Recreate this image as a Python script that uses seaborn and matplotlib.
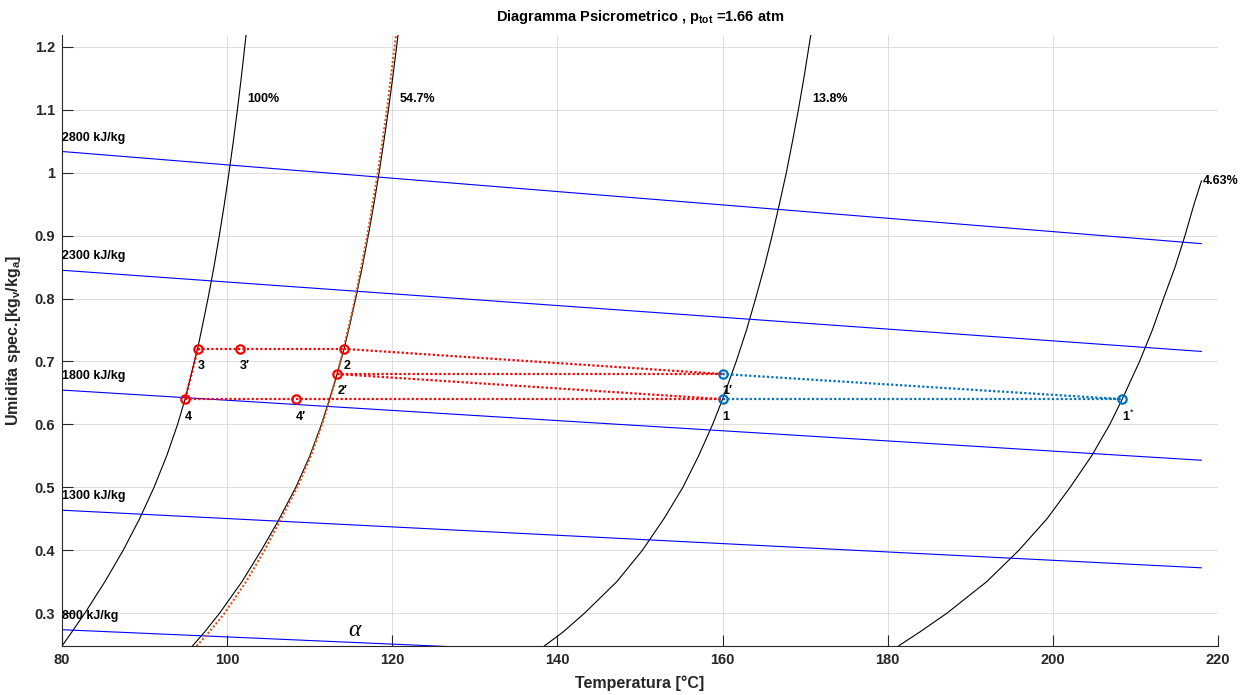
import matplotlib
matplotlib.use("Agg")
import matplotlib.pyplot as plt
import seaborn as sns
from matplotlib.ticker import FixedLocator, FuncFormatter

# ---------------- data ----------------
# relative-humidity curves: specific humidity [kg_v/kg_a] and temperature [°C]
rh100_X = [0.2476, 0.27, 0.30, 0.35, 0.40, 0.45, 0.50, 0.55, 0.60, 0.64, 0.70, 0.72, 0.75,
           0.80, 0.85, 0.90, 0.95, 1.00, 1.05, 1.10, 1.15, 1.219]
rh100_T = [80.0, 81.2, 82.78, 85.2, 87.42, 89.4, 91.15, 92.68, 94.0, 94.9, 96.05, 96.42, 96.9,
           97.68, 98.4, 99.05, 99.66, 100.22, 100.75, 101.24, 101.7, 102.29]

rh547_X = [0.2476, 0.27, 0.30, 0.35, 0.40, 0.445, 0.50, 0.55, 0.60, 0.64, 0.68, 0.72, 0.76,
           0.80, 0.85, 0.90, 0.95, 1.00, 1.05, 1.10, 1.15, 1.219]
rh547_T = [95.8, 97.28, 99.1, 101.8, 104.15, 106.12, 108.32, 110.02, 111.42, 112.4, 113.32, 114.15, 114.89,
           115.57, 116.36, 117.09, 117.77, 118.4, 118.98, 119.53, 120.04, 120.7]

rh138_X = [0.2476, 0.27, 0.30, 0.35, 0.40, 0.45, 0.50, 0.55, 0.60, 0.64, 0.70, 0.75, 0.80,
           0.85, 0.90, 0.95, 1.00, 1.05, 1.10, 1.15, 1.219]
rh138_T = [138.4, 140.7, 143.3, 147.2, 150.3, 152.9, 155.2, 157.1, 158.8, 160.0, 161.65, 162.9, 164.0,
           165.05, 166.0, 166.88, 167.72, 168.47, 169.18, 169.84, 170.68]

rh463_X = [0.2476, 0.27, 0.30, 0.35, 0.40, 0.45, 0.50, 0.55, 0.60, 0.64, 0.70, 0.75, 0.80,
           0.85, 0.90, 0.95, 0.9873]
rh463_T = [181.3, 183.9, 187.2, 192.0, 195.9, 199.3, 202.1, 204.7, 206.9, 208.4, 210.5, 212.05, 213.4,
           214.8, 216.0, 217.1, 218.0]

rh_labels = ["100%", "54.7%", "13.8%", "4.63%"]
rh_label_T = [102.44, 120.85, 170.9, 218.1]
rh_label_X = [1.117, 1.117, 1.117, 0.9873]

# dotted (fitted) curve next to the 54.7% line
fit_X = [0.2476, 0.27, 0.30, 0.35, 0.40, 0.445, 0.50, 0.55, 0.60, 0.64, 0.68, 0.72, 0.80, 0.90,
         1.00, 1.10, 1.219]
fit_T = [96.3, 97.85, 99.7, 102.3, 104.55, 106.32, 108.5, 110.15, 111.5, 112.45, 113.32, 114.1, 115.5,
         116.97, 118.25, 119.35, 120.45]

# iso-enthalpy lines
enth_labels = ["800 kJ/kg", "1300 kJ/kg", "1800 kJ/kg", "2300 kJ/kg", "2800 kJ/kg"]
enth_T = [80.0, 218.0]
enth_X_start = [0.2735, 0.4635, 0.6545, 0.8450, 1.0338]
enth_X_end = [0.1944, 0.3719, 0.5429, 0.7159, 0.8873]

# cycle states
state_names = ["1", "1′", "2", "2′", "3", "3′", "4", "4′", "1$^{*}$"]
state_T = [160.0, 160.0, 114.15, 113.35, 96.45, 101.5, 94.9, 108.3, 208.4]
state_X = [0.64, 0.68, 0.72, 0.68, 0.72, 0.72, 0.64, 0.64, 0.64]

red_paths = [["3", "3′", "2"], ["2", "1′"], ["2′", "1′"], ["2′", "1"], ["4", "4′", "1"], ["3", "4"]]
blue_paths = [["1′", "1$^{*}$"], ["1", "1$^{*}$"]]
red_states = ["2", "2′", "3", "3′", "4", "4′"]
blue_states = ["1′", "1", "1$^{*}$"]

title_txt = "Diagramma Psicrometrico , p$_{\\mathbf{tot}}$ =1.66 atm"
xlabel_txt = "Temperatura [°C]"
ylabel_txt = "Umidita spec.[kg$_{\\mathbf{v}}$/kg$_{\\mathbf{a}}$]"
x_ticks = [80, 100, 120, 140, 160, 180, 200, 220]
y_ticks = [0.3, 0.4, 0.5, 0.6, 0.7, 0.8, 0.9, 1.0, 1.1, 1.2]

# ---------------- style ----------------
sns.set_theme(style="white")
plt.rcParams["font.family"] = ["Liberation Sans", "DejaVu Sans"]
plt.rcParams["mathtext.fontset"] = "custom"
plt.rcParams["mathtext.rm"] = "Liberation Sans"
plt.rcParams["mathtext.bf"] = "Liberation Sans:bold"
plt.rcParams["mathtext.it"] = "Liberation Sans:italic"

TXT = "#262626"
RED = "#FF0000"
MBLUE = "#0072BD"
ORANGE = "#D95319"
DOT = (0, (1, 1))

fig = plt.figure(figsize=(12.46, 6.95), dpi=100)
W, H = 1246, 695
ax = fig.add_axes([62 / W, 1 - 646 / H, (1218 - 62) / W, (646 - 35) / H])

# relative humidity curves
for T, X in [(rh100_T, rh100_X), (rh547_T, rh547_X), (rh138_T, rh138_X), (rh463_T, rh463_X)]:
    sns.lineplot(x=T, y=X, sort=False, estimator=None, color="black", linewidth=0.8, ax=ax)
for lab, t, x in zip(rh_labels, rh_label_T, rh_label_X):
    ax.text(t, x, lab, ha="left", va="center", fontsize=9, fontweight="bold", color="black", clip_on=False)

# iso-enthalpy lines
for lab, y0, y1 in zip(enth_labels, enth_X_start, enth_X_end):
    sns.lineplot(x=enth_T, y=[y0, y1], sort=False, estimator=None, color="#0000FF", linewidth=0.8, ax=ax)
    ax.text(enth_T[0], y0 + 0.022, lab, ha="left", va="center", fontsize=9, fontweight="bold", color="black")

# fitted dotted curve
sns.lineplot(x=fit_T, y=fit_X, sort=False, estimator=None, color=ORANGE, linewidth=1.5,
             linestyle=DOT, ax=ax)

idx = {n: i for i, n in enumerate(state_names)}

def draw_paths(paths, color):
    for p in paths:
        xs = [state_T[idx[n]] for n in p]
        ys = [state_X[idx[n]] for n in p]
        sns.lineplot(x=xs, y=ys, sort=False, estimator=None, color=color, linewidth=1.6,
                     linestyle=DOT, ax=ax)

def draw_states(names, color):
    xs = [state_T[idx[n]] for n in names]
    ys = [state_X[idx[n]] for n in names]
    sns.lineplot(x=xs, y=ys, sort=False, estimator=None, color=color, linestyle="none",
                 marker="o", markersize=6, markerfacecolor="none", markeredgecolor=color,
                 markeredgewidth=1.6, ax=ax)

draw_paths(red_paths, RED)
draw_states(red_states, RED)
draw_paths(blue_paths, MBLUE)
draw_states(blue_states, MBLUE)

for n, t, x in zip(state_names, state_T, state_X):
    ax.annotate(n, (t, x), xytext=(0, -12.5), textcoords="offset points", ha="left", va="center",
                fontsize=9, fontweight="bold", color="black")

ax.text(115.4, 0.272, "α", fontsize=17, family="Liberation Serif", style="italic", ha="center",
        va="center", color="black")

# axes
ax.set_xlim(80, 220)
ax.set_ylim(0.2476, 1.219)
ax.xaxis.set_major_locator(FixedLocator(x_ticks))
ax.yaxis.set_major_locator(FixedLocator(y_ticks))
ax.yaxis.set_major_formatter(FuncFormatter(lambda v, p: f"{v:g}"))
ax.grid(True, color="#DEDEDE", linewidth=0.7)
ax.set_axisbelow(True)
for s in ["top", "right"]:
    ax.spines[s].set_visible(False)
for s in ["left", "bottom"]:
    ax.spines[s].set_color(TXT)
    ax.spines[s].set_linewidth(0.8)
ax.tick_params(direction="in", length=8, width=0.8, color=TXT, labelcolor=TXT, labelsize=10.5,
               pad=5, left=True, bottom=True, top=False, right=False)
for lab in ax.get_xticklabels() + ax.get_yticklabels():
    lab.set_fontweight("bold")

ax.set_xlabel(xlabel_txt, fontsize=11.5, fontweight="bold", color=TXT, labelpad=6)
ax.set_ylabel(ylabel_txt, fontsize=11.5, fontweight="bold", color=TXT, labelpad=8)
ax.set_title(title_txt, fontsize=10.5, fontweight="bold", color="black", pad=10)

fig.savefig("out.png", dpi=100)
